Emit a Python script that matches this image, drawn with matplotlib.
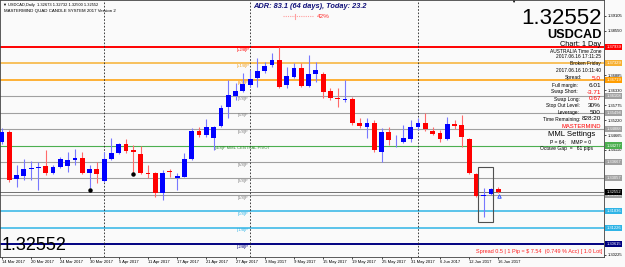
import matplotlib
matplotlib.use("Agg")
import matplotlib.pyplot as plt
import matplotlib.transforms as mtransforms
from matplotlib.lines import Line2D
from matplotlib.patches import Rectangle
import numpy as np

plt.rcParams['font.family'] = ['Liberation Sans', 'DejaVu Sans']

W, H = 625, 267

# daily bars, 14 Mar 2017 .. 16 Jun 2017 (index 0..68)
opens = [1.34407, 1.34779, 1.33032, 1.33143, 1.33422, 1.33459, 1.33515, 1.33255, 1.33478, 1.33515,
         1.33738, 1.33812, 1.33255, 1.33404, 1.32957, 1.33775, 1.33998, 1.34333, 1.34110, 1.33961,
         1.33255, 1.33255, 1.32511, 1.33311, 1.33069, 1.33106, 1.33775, 1.34816, 1.34668, 1.34556,
         1.35002, 1.35708, 1.36117, 1.36303, 1.36526, 1.36787, 1.37047, 1.37270, 1.37456, 1.36526,
         1.36824, 1.37158, 1.36489, 1.36935, 1.36935, 1.36303, 1.36025, 1.35987, 1.36006, 1.35114,
         1.34965, 1.35114, 1.34036, 1.34779, 1.34426, 1.34407, 1.34519, 1.34965, 1.35114, 1.34816,
         1.34742, 1.34519, 1.35076, 1.35039, 1.34519, 1.33218, 1.32418, 1.32474, 1.32673]
highs = [1.34928, 1.34853, 1.33552, 1.33775, 1.33701, 1.33664, 1.34110, 1.33552, 1.33850, 1.34036,
         1.34147, 1.34036, 1.33552, 1.33664, 1.34036, 1.34556, 1.34370, 1.34519, 1.34296, 1.34259,
         1.33552, 1.33292, 1.33366, 1.33404, 1.33255, 1.33998, 1.34928, 1.34965, 1.35262, 1.35002,
         1.35783, 1.36712, 1.36601, 1.36972, 1.37084, 1.37530, 1.37381, 1.37716, 1.37939, 1.37196,
         1.37344, 1.37344, 1.37642, 1.37381, 1.37010, 1.36415, 1.36415, 1.36712, 1.36080, 1.35300,
         1.35300, 1.35225, 1.34928, 1.34965, 1.34668, 1.35039, 1.35225, 1.35300, 1.35485, 1.34965,
         1.34853, 1.35337, 1.35225, 1.35411, 1.34556, 1.33255, 1.32697, 1.32697, 1.32732]
lows = [1.34333, 1.32920, 1.32734, 1.32995, 1.32995, 1.32623, 1.33181, 1.33218, 1.33441, 1.33292,
        1.33552, 1.33218, 1.32697, 1.32883, 1.32920, 1.33738, 1.33961, 1.33998, 1.33255, 1.33218,
        1.33069, 1.32363, 1.32251, 1.33106, 1.32623, 1.33106, 1.33738, 1.34593, 1.34593, 1.34110,
        1.34965, 1.35300, 1.35969, 1.36266, 1.36452, 1.36452, 1.36972, 1.37196, 1.36415, 1.36415,
        1.36787, 1.36452, 1.36452, 1.36638, 1.36043, 1.35969, 1.35708, 1.35894, 1.35039, 1.34928,
        1.34556, 1.34036, 1.33664, 1.34296, 1.34221, 1.34370, 1.34407, 1.34853, 1.34816, 1.34668,
        1.34407, 1.34482, 1.34891, 1.34221, 1.33218, 1.32363, 1.31619, 1.32437, 1.32500]
closes = [1.34779, 1.32995, 1.33181, 1.33404, 1.33441, 1.33478, 1.33255, 1.33478, 1.33775, 1.33738,
          1.33812, 1.33255, 1.33404, 1.33218, 1.33775, 1.33998, 1.34333, 1.34073, 1.34036, 1.33255,
          1.33218, 1.32511, 1.33255, 1.33292, 1.33143, 1.33775, 1.34816, 1.34668, 1.34965, 1.34965,
          1.35671, 1.36155, 1.36303, 1.36564, 1.36749, 1.37047, 1.37233, 1.37456, 1.36452, 1.36861,
          1.37158, 1.36489, 1.36935, 1.37084, 1.36266, 1.36043, 1.36006, 1.36006, 1.35114, 1.35002,
          1.35114, 1.34110, 1.34779, 1.34482, 1.34445, 1.34556, 1.34965, 1.35114, 1.34891, 1.34705,
          1.34519, 1.35076, 1.35002, 1.34593, 1.33255, 1.32400, 1.32437, 1.32660, 1.32552]

date_ticks = list(range(0, 69, 4))
date_labels = ['14 Mar 2017', '20 Mar 2017', '24 Mar 2017', '30 Mar 2017', '5 Apr 2017',
               '11 Apr 2017', '17 Apr 2017', '21 Apr 2017', '27 Apr 2017', '3 May 2017',
               '9 May 2017', '15 May 2017', '19 May 2017', '25 May 2017', '31 May 2017',
               '6 Jun 2017', '12 Jun 2017', '16 Jun 2017']
month_starts = [14, 34, 57]

# murrey math levels
mml_names = ['[+2/8]P', '[+1/8]P', '[8/8]P', '[7/8]P', '[6/8]P', '[5/8]P',
             '[4/8]P MML CENTRAL PIVOT', '[3/8]P', '[2/8]P', '[1/8]P', '[0/8]P',
             '[-1/8]P', '[-2/8]P']
mml_prices = [1.37939, 1.37329, 1.36719, 1.36108, 1.35498, 1.34888, 1.34277,
              1.33667, 1.33057, 1.32446, 1.31836, 1.31226, 1.30615]
mml_colors = ['#ff0000', '#f7b032', '#ff9d00', '#a0a0a0', '#a0a0a0', '#a0a0a0', '#4caf50',
              '#a0a0a0', '#a0a0a0', '#a0a0a0', '#2fb4e6', '#2fb4e6', '#000080']
mml_widths = [1.4, 1.1, 1.1, 0.8, 0.8, 0.8, 0.8, 0.8, 0.8, 0.8, 1.1, 1.1, 1.4]
label_colors = ['#ff0000', '#f0a020', '#f09000', '#808080', '#808080', '#808080', '#2e8b2e',
                '#808080', '#808080', '#808080', '#2fb4e6', '#2fb4e6', '#000080']

bid = 1.32552
# price-scale labels not hidden behind the level boxes
y_ticks = [1.30225, 1.34110, 1.34665, 1.35220, 1.35775, 1.36330, 1.36885, 1.38550, 1.39105]
fractal_bars = [12, 18]
fractal_prices = [1.32640, 1.33230]
box = (65.2, 67.25, 1.33490, 1.31420)   # bar from, bar to, top, bottom

BULL, BEAR = '#0000ff', '#ff0000'
BULL_WICK, BEAR_WICK = '#7878ff', '#ff6a6a'
BG = '#fafafa'


def px(x, y):
    return x / W, 1 - y / H


fig = plt.figure(figsize=(W / 100, H / 100), dpi=100)
fig.patch.set_facecolor(BG)
ax = fig.add_axes([0, 10 / H, 604 / W, 257 / H])
ax.set_facecolor(BG)
ax.set_xlim(-0.27, 82.47)
ax.set_ylim(1.301322, 1.396862)

# levels
for p, c, lw in zip(mml_prices, mml_colors, mml_widths):
    ax.axhline(p, color=c, lw=lw, zorder=1)
ax.axhline(bid, color='#707070', lw=0.7, zorder=1)
for name, p, c in zip(mml_names, mml_prices, label_colors):
    ax.text(33, p - 0.0003, name, ha='center', va='top', fontsize=3, color=c, zorder=2)

for b in month_starts:
    ax.axvline(b, color='#202020', lw=0.6, ls=(0, (2, 2)), zorder=1)

# candles
o = np.array(opens); h = np.array(highs); l = np.array(lows); c = np.array(closes)
x = np.arange(len(o))
up = c >= o
ax.vlines(x[up], l[up], h[up], color=BULL_WICK, lw=0.8, zorder=3)
ax.vlines(x[~up], l[~up], h[~up], color=BEAR_WICK, lw=0.8, zorder=3)
body = np.maximum(np.abs(c - o), 0.00035)
bottom = np.minimum(o, c)
ax.bar(x[up], body[up], bottom=bottom[up], width=0.66, color=BULL, lw=0, zorder=4)
ax.bar(x[~up], body[~up], bottom=bottom[~up], width=0.66, color=BEAR, lw=0, zorder=4)

ax.plot(fractal_bars, fractal_prices, 'o', ms=2.2, color='black', zorder=5)
ax.add_patch(Rectangle((box[0], box[3]), box[1] - box[0], box[2] - box[3],
                       fill=False, ec='#505050', lw=0.8, zorder=5))
ax.plot(68.1, 1.32385, marker='^', mfc='none', mec='#3050ff', ms=2.5, mew=0.7, zorder=5)

# axes
for s in ax.spines.values():
    s.set_color('#404040')
    s.set_linewidth(0.6)
ax.yaxis.tick_right()
ax.set_yticks(y_ticks)
ax.set_yticklabels([f"{v:.5f}" for v in y_ticks])
ax.tick_params(axis='y', labelsize=3, length=1.5, width=0.5, pad=1.5)
ax.set_xticks(date_ticks)
ax.set_xticklabels(date_labels, ha='left')
ax.tick_params(axis='x', labelsize=3, length=1.5, width=0.5, pad=1)

trans = mtransforms.blended_transform_factory(ax.transAxes, ax.transData)
for p, col in zip(mml_prices + [bid], mml_colors + ['#000000']):
    ax.text(1.004, p, f"{p:.5f}", transform=trans, fontsize=3, color='white',
            ha='left', va='center', clip_on=False, zorder=6,
            bbox=dict(boxstyle='square,pad=0.25', fc=col, ec='none'))

# header texts
fig.text(*px(3, 5), "\u25bc USDCAD,Daily  1.32673 1.32732 1.32500 1.32552", fontsize=2.9, va='center')
fig.text(*px(4, 11), "MASTERMIND QUAD CANDLE SYSTEM 2017 Version 2", fontsize=3.2, va='center')
fig.text(*px(253, 6), "ADR: 83.1 (64 days), Today: 23.2", fontsize=5.3, va='center',
         fontweight='bold', fontstyle='italic', color='#10107a')

# ADR progress gauge
fig.add_artist(Line2D([283 / W, 313 / W], [1 - 16 / H] * 2, color='#ff9f9f', lw=0.8,
                      ls=(0, (1, 1))))
fig.add_artist(Line2D([295 / W] * 2, [1 - 13.5 / H, 1 - 18.5 / H], color='#ff9f9f', lw=0.8))
fig.text(*px(317, 16), "42%", fontsize=4.6, va='center', color='#ff3030')
fig.text(*px(513, 2), "\u25bc", fontsize=3, ha='center', va='center')

fig.text(*px(602, 18.5), "1.32552", fontsize=16, ha='right', va='center')
fig.text(*px(602, 35), "USDCAD", fontsize=9.2, ha='right', va='center', fontweight='bold')
fig.text(*px(601, 44), "Chart: 1 Day", fontsize=5.3, ha='right', va='center')

info = ["AUSTRALIA Time Zone", "2017.06.16 17:11:25", "Broken Friday", "2017.06.16 10:11:40"]
info_y = [51.5, 57, 63.5, 71]
for y, t in zip(info_y, info):
    fig.text(*px(601, y), t, fontsize=3.5, ha='right', va='center')

rows = [
    (78, "Spread:", "5.0", '#ff0000', 582),
    (85.5, "Full margin:", "6.01", 'black', 578),
    (92, "Swap Short:", "-3.71", '#ff0000', 578),
    (99, "Swap Long:", "0.67", '#ff0000', 580),
    (105.5, "Stop Out Level:", "30%", 'black', 580),
    (112.5, "Leverage:", "500", 'black', 580),
    (119, "Time Remaining:", "828:20", 'black', 580),
]
for y, lab, val, col, xr in rows:
    fig.text(*px(xr, y), lab, fontsize=3.5, ha='right', va='center')
    fig.text(*px(601, y), val, fontsize=4.6, ha='right', va='center', color=col)
fig.text(*px(601, 126.5), "MASTERMIND", fontsize=4.2, ha='right', va='center', color='#ff0000')
fig.text(*px(572, 134.5), "MML Settings", fontsize=5.6, ha='center', va='center')
fig.text(*px(571, 141.5), "P = 64;    MMP = 0", fontsize=3.6, ha='center', va='center')
fig.text(*px(567, 148.5), "Octave Gap  =   61 pips", fontsize=3.6, ha='center', va='center')

fig.text(*px(2, 245), "1.32552", fontsize=13, va='center')
fig.text(*px(602, 251.5), "Spread 0.5 | 1 Pip = $ 7.54  (0.749 % Acc) [ 1.0 Lot]",
         fontsize=4, ha='right', va='center', color='#ff2020')

fig.savefig("out.png", dpi=100, facecolor=BG)
